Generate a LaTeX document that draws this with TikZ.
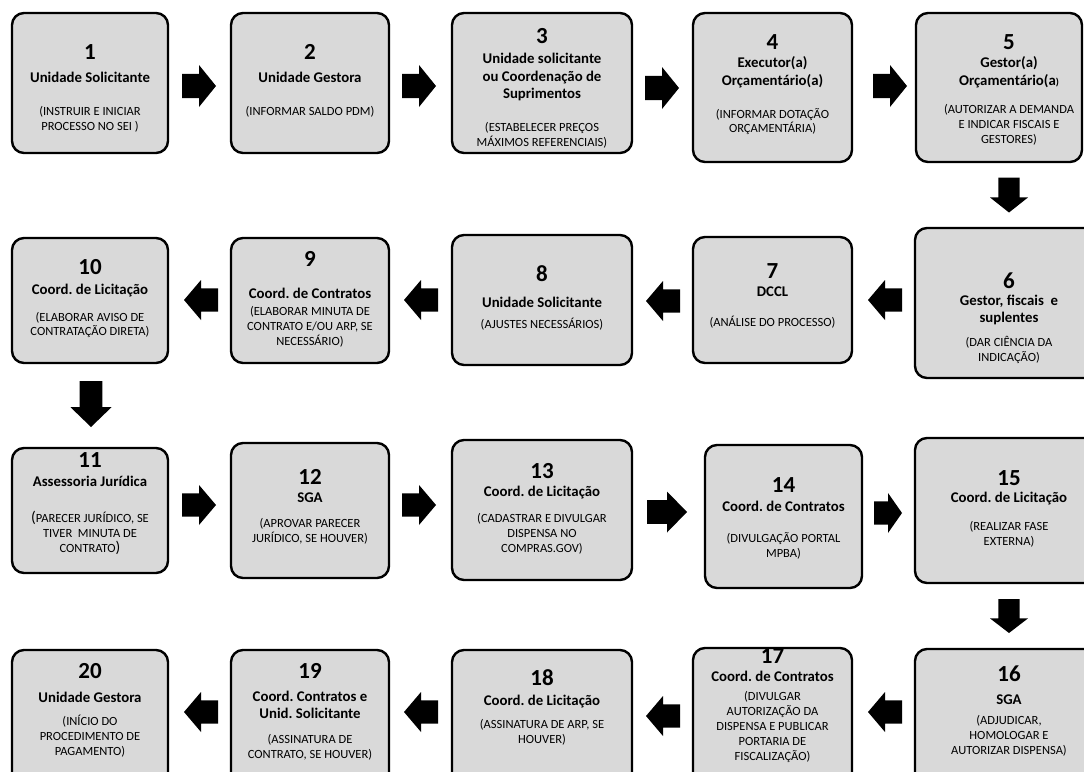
\documentclass[tikz,border=0pt]{standalone}
\usepackage{fontspec}
\setmainfont{Carlito}
\frenchspacing
\definecolor{boxgray}{HTML}{D9D9D9}
\tikzset{
  stepbox/.style={draw=black, line width=2.4pt, rounded corners=12pt, fill=boxgray, inner sep=0pt},
  numtxt/.style={font=\bfseries\fontsize{23}{25}\selectfont, inner sep=0pt},
  ttltxt/.style={font=\bfseries\fontsize{14.8}{17.5}\selectfont, align=center, inner sep=0pt},
  captxt/.style={font=\fontsize{12.5}{14.8}\selectfont, align=center, inner sep=0pt},
  pics/rarr/.style 2 args={code={
    \fill[black] ({-#1/2},{-0.29*#2}) -- (0,{-0.29*#2}) -- (0,{-#2/2}) -- ({#1/2},0)
      -- (0,{#2/2}) -- (0,{0.29*#2}) -- ({-#1/2},{0.29*#2}) -- cycle;}},
  pics/larr/.style 2 args={code={
    \fill[black] ({#1/2},{-0.29*#2}) -- (0,{-0.29*#2}) -- (0,{-#2/2}) -- ({-#1/2},0)
      -- (0,{#2/2}) -- (0,{0.29*#2}) -- ({#1/2},{0.29*#2}) -- cycle;}},
  pics/darr/.style 2 args={code={
    \fill[black] ({-0.28*#1},{-#2/2}) -- ({0.28*#1},{-#2/2}) -- ({0.28*#1},{0.07*#2})
      -- ({#1/2},{0.07*#2}) -- (0,{#2/2}) -- ({-#1/2},{0.07*#2})
      -- ({-0.28*#1},{0.07*#2}) -- cycle;}},
}
\newcommand\bt[8]{%
  \node[numtxt] (n#1) at (#2,#3) {#4};
  \node[ttltxt] (t#1) at (#2,#5) {#6};
  \node[captxt] (c#1) at (#2,#7) {#8};}
\newcommand\bx[6]{%
  \node[stepbox, minimum width=#4pt, minimum height=#5pt] (b#1) at (#2,#3) {};}
\begin{document}
\begin{tikzpicture}[x=1pt,y=-1pt]
\useasboundingbox (0,0) rectangle (1084,771);
\clip (0,0) rectangle (1084,771);
\fill[white] (0,0) rectangle (1084,771);
% row 1
\bx{1}{90}{83}{156}{140}{}
\bx{2}{310}{83}{158}{140}{}
\bx{3}{542}{83}{180}{140}{}
\bx{4}{772.5}{87.5}{159}{149}{}
\bx{5}{999}{87.5}{166}{149}{}
% row 2
\bx{6}{1008}{303}{186}{150}{}
\bx{7}{772.5}{300}{159}{126}{}
\bx{8}{542}{300}{180}{130}{}
\bx{9}{310}{300.5}{158}{125}{}
\bx{10}{90}{300.5}{156}{125}{}
% row 3
\bx{11}{90}{510.5}{156}{125}{}
\bx{12}{310}{510.5}{158}{135}{}
\bx{13}{542}{510}{180}{140}{}
\bx{14}{783.5}{516.5}{157}{143}{}
\bx{15}{1008}{510.5}{186}{145}{}
% row 4
\bx{16}{1008}{719.5}{186}{141}{}
\bx{17}{772.5}{719}{159}{142}{}
\bx{18}{542}{720}{180}{140}{}
\bx{19}{310}{720}{158}{140}{}
\bx{20}{90}{720}{156}{140}{}
% texts row 1
\bt{1}{90}{52}{1}{77}{Unidade Solicitante}{119.5}{(INSTRUIR E INICIAR\\PROCESSO NO SEI )}
\bt{2}{310}{52}{2}{77}{Unidade Gestora}{112}{(INFORMAR SALDO PDM)}
\bt{3}{542}{36}{3}{77}{Unidade solicitante\\ou Coordenação de\\Suprimentos}{135.5}{(ESTABELECER PREÇOS\\MÁXIMOS REFERENCIAIS)}
\bt{4}{772.5}{42}{4}{72}{Executor(a)\\Orçamentário(a)}{121.5}{(INFORMAR DOTAÇÃO\\ORÇAMENTÁRIA)}
\bt{5}{1009}{42}{5}{72}{Gestor(a)\\Orçamentário(a{\fontsize{10}{12}\selectfont )}}{125}{(AUTORIZAR A DEMANDA\\E INDICAR FISCAIS E\\GESTORES)}
% texts row 2
\bt{6}{1009}{281}{6}{310}{Gestor, fiscais\ \ e\\suplentes}{350}{(DAR CIÊNCIA DA\\INDICAÇÃO)}
\bt{7}{772.5}{271}{7}{292}{DCCL}{322}{(ANÁLISE DO PROCESSO)}
\bt{8}{542}{274}{8}{302}{Unidade Solicitante}{324}{(AJUSTES NECESSÁRIOS)}
\bt{9}{310}{259}{9}{293}{Coord. de Contratos}{327}{(ELABORAR MINUTA DE\\CONTRATO E/OU ARP, SE\\NECESSÁRIO)}
\bt{10}{90}{267}{10}{291}{Coord. de Licitação}{325}{(ELABORAR AVISO DE\\CONTRATAÇÃO DIRETA)}
% texts row 3
\bt{11}{90}{460}{11}{481}{Assessoria Jurídica}{533}{{\fontsize{15.5}{14.8}\selectfont (}PARECER JURÍDICO, SE\\TIVER\ \ MINUTA DE\\CONTRATO{\fontsize{15.5}{14.8}\selectfont )}}
\bt{12}{310}{477}{12}{498}{SGA}{531}{(APROVAR PARECER\\JURÍDICO, SE HOUVER)}
\bt{13}{542}{471}{13}{493}{Coord. de Licitação}{534}{(CADASTRAR E DIVULGAR\\DISPENSA NO\\COMPRAS.GOV)}
\bt{14}{783.5}{485}{14}{506}{Coord. de Contratos}{545.5}{(DIVULGAÇÃO PORTAL\\MPBA)}
\bt{15}{1009}{478}{15}{499}{Coord. de Licitação}{534}{(REALIZAR FASE\\EXTERNA)}
% texts row 4
\bt{16}{1009}{674}{16}{700}{SGA}{736}{(ADJUDICAR,\\HOMOLOGAR E\\AUTORIZAR DISPENSA)}
\bt{17}{772.5}{656}{17}{676}{Coord. de Contratos}{727}{(DIVULGAR\\AUTORIZAÇÃO DA\\DISPENSA E PUBLICAR\\PORTARIA DE\\FISCALIZAÇÃO)}
\bt{18}{542}{678}{18}{702}{Coord. de Licitação}{732}{(ASSINATURA DE ARP, SE\\HOUVER)}
\bt{19}{310}{671}{19}{705}{Coord. Contratos e\\Unid. Solicitante}{747.5}{(ASSINATURA DE\\CONTRATO, SE HOUVER)}
\bt{20}{90}{671}{20}{697}{Unidade Gestora}{736}{(INÍCIO DO\\PROCEDIMENTO DE\\PAGAMENTO)}
% arrows
\pic at (199,86) {rarr={34}{42}};
\pic at (419,86) {rarr={34}{42}};
\pic at (662,88) {rarr={34}{42}};
\pic at (890,86) {rarr={34}{42}};
\pic at (1009,195) {darr={38}{35}};
\pic at (885,300) {larr={34}{40}};
\pic at (663,301) {larr={34}{40}};
\pic at (421,300) {larr={34}{40}};
\pic at (201,300) {larr={34}{40}};
\pic at (91,404) {darr={41}{46}};
\pic at (199,505) {rarr={34}{40}};
\pic at (419,505) {rarr={34}{40}};
\pic at (667,512) {rarr={40}{41}};
\pic at (888,513) {rarr={28}{40}};
\pic at (1009,616) {darr={38}{34}};
\pic at (885,712) {larr={34}{40}};
\pic at (663,716) {larr={34}{40}};
\pic at (421,712) {larr={34}{40}};
\pic at (201,712) {larr={34}{40}};
\end{tikzpicture}
\end{document}
